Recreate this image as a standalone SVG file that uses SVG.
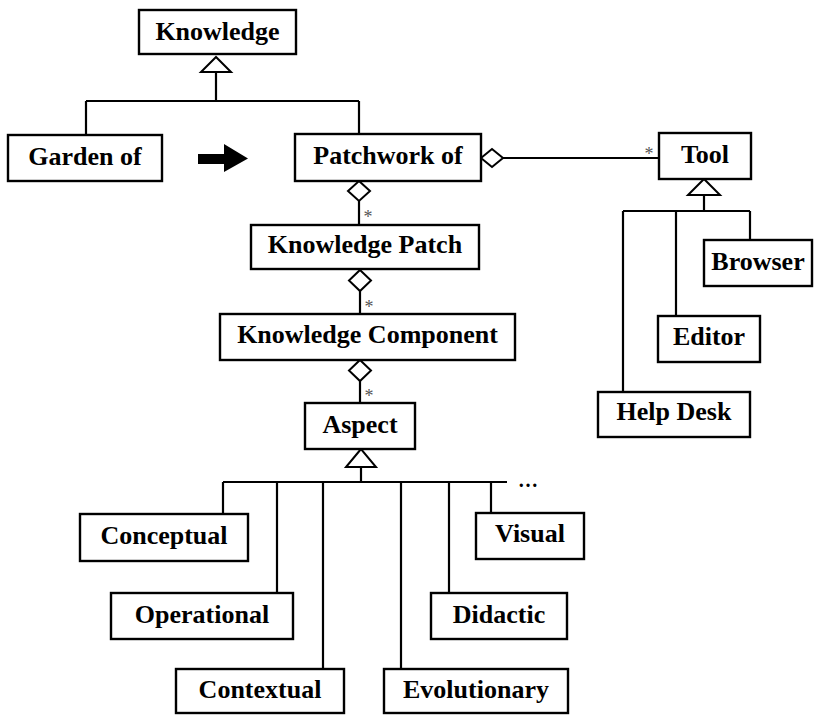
<svg xmlns="http://www.w3.org/2000/svg" width="816" height="715" viewBox="0 0 816 715">
  <style>
    .box { fill: #fff; stroke: #000; stroke-width: 2.4; }
    .lbl { font-family: "Liberation Serif", "Times New Roman", serif; font-weight: bold; font-size: 26px; text-anchor: middle; fill: #000; }
    .ln { fill: none; stroke: #000; stroke-width: 2.2; }
    .tri { fill: #fff; stroke: #000; stroke-width: 2; }
    .dia { fill: #fff; stroke: #000; stroke-width: 2; }
    .mult { font-family: "Liberation Serif", "Times New Roman", serif; font-size: 18px; fill: #555; text-anchor: middle; }
  </style>
  <rect width="816" height="715" fill="#fff"/>

  <g id="connectors">
    <!-- Knowledge generalization -->
    <path class="ln" d="M216 72 V101 M86 101 H359 M86 101 V135 M359 101 V134"/>
    <polygon class="tri" points="216,57 201,72 231,72"/>
    <!-- Patchwork aggregates Tool -->
    <path class="ln" d="M503 158 H659"/>
    <polygon class="dia" points="481,158 492,149 503,158 492,167"/>
    <text class="mult" x="649" y="160">*</text>
    <!-- Patchwork aggregates Knowledge Patch -->
    <path class="ln" d="M359 201 V225"/>
    <polygon class="dia" points="359,181 370,191 359,201 348,191"/>
    <text class="mult" x="368" y="223">*</text>
    <!-- Knowledge Patch aggregates Knowledge Component -->
    <path class="ln" d="M360 291 V314"/>
    <polygon class="dia" points="360,270 371,280.5 360,291 349,280.5"/>
    <text class="mult" x="369" y="313">*</text>
    <!-- Knowledge Component aggregates Aspect -->
    <path class="ln" d="M360 381 V403"/>
    <polygon class="dia" points="360,360 371,370.5 360,381 349,370.5"/>
    <text class="mult" x="369" y="402">*</text>
    <!-- Tool generalization -->
    <path class="ln" d="M704 195 V211 M623 211 H750 M623 211 V392 M676 211 V316 M750 211 V240"/>
    <polygon class="tri" points="704,179 688,195 720,195"/>
    <!-- Aspect generalization -->
    <path class="ln" d="M361 467 V482 M223 482 H507 M223 482 V514 M277 482 V593 M323 482 V669 M401 482 V669 M449 482 V593 M491 482 V513"/>
    <polygon class="tri" points="361,449 346,467 376,467"/>
    <text x="528" y="487" font-family="Liberation Serif, Times New Roman, serif" font-weight="bold" font-size="20" text-anchor="middle" fill="#000">…</text>
    <!-- Garden to Patchwork transition arrow -->
    <polygon fill="#000" points="198,154 224,154 224,144 248,158.5 224,172 224,164 198,164"/>
  </g>

  <g id="knowledge"><rect class="box" x="139" y="10" width="157" height="44"/><text class="lbl" x="217.5" y="40">Knowledge</text></g>
  <g id="garden-of"><rect class="box" x="8" y="135" width="154" height="46"/><text class="lbl" x="85" y="165">Garden of</text></g>
  <g id="patchwork-of"><rect class="box" x="295" y="134" width="186" height="47"/><text class="lbl" x="388" y="164">Patchwork of</text></g>
  <g id="tool"><rect class="box" x="659" y="133" width="92" height="46"/><text class="lbl" x="705" y="163">Tool</text></g>
  <g id="browser"><rect class="box" x="704" y="240" width="108" height="46"/><text class="lbl" x="758" y="270">Browser</text></g>
  <g id="editor"><rect class="box" x="658" y="316" width="102" height="46"/><text class="lbl" x="709" y="345">Editor</text></g>
  <g id="help-desk"><rect class="box" x="598" y="392" width="152" height="45"/><text class="lbl" x="674" y="420">Help Desk</text></g>
  <g id="knowledge-patch"><rect class="box" x="251" y="225" width="228" height="44"/><text class="lbl" x="365" y="253">Knowledge Patch</text></g>
  <g id="knowledge-component"><rect class="box" x="220" y="314" width="295" height="46"/><text class="lbl" x="367.5" y="343">Knowledge Component</text></g>
  <g id="aspect"><rect class="box" x="305" y="403" width="110" height="46"/><text class="lbl" x="360" y="433">Aspect</text></g>
  <g id="conceptual"><rect class="box" x="80" y="514" width="168" height="47"/><text class="lbl" x="164" y="544">Conceptual</text></g>
  <g id="visual"><rect class="box" x="476" y="513" width="108" height="46"/><text class="lbl" x="530" y="542">Visual</text></g>
  <g id="operational"><rect class="box" x="111" y="593" width="182" height="46"/><text class="lbl" x="202" y="623">Operational</text></g>
  <g id="didactic"><rect class="box" x="431" y="593" width="136" height="46"/><text class="lbl" x="499" y="623">Didactic</text></g>
  <g id="contextual"><rect class="box" x="176" y="669" width="168" height="44"/><text class="lbl" x="260" y="698">Contextual</text></g>
  <g id="evolutionary"><rect class="box" x="384" y="669" width="184" height="44"/><text class="lbl" x="476" y="698">Evolutionary</text></g>
</svg>
